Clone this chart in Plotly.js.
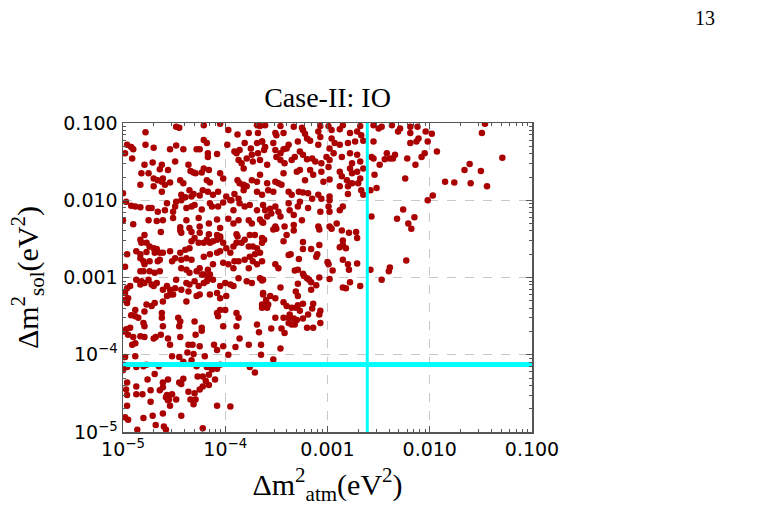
<!DOCTYPE html>
<html>
<head>
<meta charset="utf-8">
<script src="https://cdn.plot.ly/plotly-3.0.1.min.js"></script>
<style>
  html, body { margin: 0; padding: 0; background: #ffffff; }
  #chart { width: 757px; height: 522px; }
</style>
</head>
<body>
<div id="chart"></div>
<script>
// Scan points, stored as [log10 Δm²_atm, log10 Δm²_sol] (both in eV²).
// Region with Δm²_sol above ~5e-3
const ptsHigh = [
  [-4.48,-1.05],[-4.45,-1.06],[-4.21,-1.03],[-4.05,-1.01],[-3.69,-1.03],[-3.66,-1.04],[-4.78,-1.12],[-3.97,-1.09],[-3.88,-1.15],[-3.77,-1.13],[-3.68,-1.13],
  [-4.96,-1.28],[-4.92,-1.31],[-4.90,-1.34],[-4.78,-1.28],[-4.70,-1.32],[-4.54,-1.34],[-4.48,-1.29],[-4.41,-1.34],[-4.28,-1.34],[-4.25,-1.34],[-4.21,-1.22],[-4.18,-1.26],[-4.17,-1.39],[-4.08,-1.40],[-3.98,-1.28],[-3.91,-1.37],[-3.86,-1.35],[-3.81,-1.26],[-3.75,-1.33],[-3.69,-1.26],[-3.64,-1.24],
  [-4.98,-1.39],[-4.91,-1.46],[-4.79,-1.54],[-4.71,-1.51],[-4.62,-1.54],[-4.64,-1.60],[-4.56,-1.61],[-4.49,-1.50],[-4.36,-1.54],[-4.34,-1.62],[-4.29,-1.65],[-4.23,-1.64],[-4.21,-1.59],[-4.16,-1.61],[-4.17,-1.44],[-3.89,-1.39],[-3.87,-1.48],[-3.84,-1.52],[-3.82,-1.59],[-3.79,-1.46],[-3.74,-1.41],[-3.73,-1.50],[-3.68,-1.39],[-3.66,-1.48],[-3.62,-1.35],
  [-4.82,-1.65],[-4.75,-1.65],[-4.70,-1.72],[-4.66,-1.74],[-4.62,-1.76],[-4.61,-1.72],[-4.54,-1.77],[-4.44,-1.74],[-4.41,-1.78],[-4.31,-1.64],[-4.18,-1.74],[-4.15,-1.77],[-4.05,-1.65],[-4.02,-1.72],[-3.88,-1.74],[-3.86,-1.78],[-3.82,-1.80],[-3.79,-1.82],[-3.74,-1.74],[-3.69,-1.76],[-3.66,-1.67],[-3.69,-1.89],
  [-4.83,-1.80],[-4.70,-1.82],[-4.62,-1.89],[-4.59,-1.80],[-4.43,-1.93],[-4.39,-1.96],[-4.35,-1.87],[-4.33,-1.95],[-4.31,-1.92],[-4.25,-1.94],[-4.22,-1.87],[-4.17,-1.89],[-4.12,-1.93],[-4.07,-1.89],[-3.99,-1.95],[-3.94,-2.00],[-3.91,-1.92],[-3.87,-1.98],[-3.82,-1.87],[-3.82,-1.82],
  [-5.00,-1.91],[-4.97,-2.02],[-4.92,-2.07],[-4.88,-2.08],[-4.83,-2.09],[-4.75,-2.10],[-4.72,-2.10],[-4.66,-2.15],[-4.59,-2.13],[-4.57,-2.04],[-4.51,-2.15],[-4.49,-2.08],[-4.48,-2.02],[-4.43,-2.00],[-4.38,-2.10],[-4.33,-2.08],[-4.30,-2.06],[-4.23,-2.12],[-4.15,-2.04],[-4.13,-2.08],[-4.07,-2.08],[-4.02,-2.03],[-3.95,-2.00],[-3.92,-2.13],[-3.86,-2.04],[-3.81,-2.08],[-3.76,-2.06],[-3.69,-2.13],
  [-5.00,-2.26],[-4.90,-2.31],[-4.75,-2.26],[-4.67,-2.27],[-4.61,-2.26],[-4.51,-2.23],[-4.38,-2.26],[-4.26,-2.23],[-4.25,-2.34],[-4.16,-2.30],[-4.08,-2.25],[-3.97,-2.24],[-3.92,-2.30],[-3.87,-2.26],[-3.77,-2.26],[-3.74,-2.30],[-3.66,-2.25],[-3.63,-2.29],[-4.44,-2.35],[-4.35,-2.36],[-4.05,-2.36],
  [-3.61,-1.03],[-3.46,-1.04],[-3.33,-1.05],[-3.25,-1.06],[-3.07,-1.04],[-2.99,-1.04],[-2.85,-1.03],[-2.68,-1.04],[-3.51,-1.13],[-3.43,-1.13],[-3.50,-1.16],[-3.24,-1.09],[-3.22,-1.14],[-3.09,-1.11],[-2.96,-1.09],[-2.88,-1.08],[-2.78,-1.13],[-2.71,-1.11],[-2.67,-1.16],
  [-3.64,-1.24],[-3.53,-1.26],[-3.38,-1.28],[-3.29,-1.24],[-3.20,-1.20],[-3.17,-1.23],[-3.07,-1.18],[-3.09,-1.28],[-2.96,-1.20],[-2.93,-1.26],[-2.98,-1.33],[-2.88,-1.28],[-2.80,-1.26],[-2.73,-1.24],[-2.65,-1.23],[-2.78,-1.39],
  [-3.61,-1.31],[-3.51,-1.35],[-3.43,-1.34],[-3.40,-1.33],[-3.46,-1.39],[-3.32,-1.44],[-3.27,-1.37],[-3.35,-1.48],[-3.24,-1.41],[-3.20,-1.47],[-3.15,-1.46],[-3.12,-1.50],[-3.06,-1.52],[-3.01,-1.44],[-2.94,-1.39],[-2.98,-1.48],[-2.86,-1.44],[-2.71,-1.41],[-2.68,-1.50],
  [-3.59,-1.54],[-3.50,-1.44],[-3.46,-1.48],[-3.43,-1.65],[-3.42,-1.52],[-3.30,-1.63],[-3.27,-1.61],[-3.17,-1.61],[-3.06,-1.63],[-2.99,-1.57],[-2.88,-1.63],[-2.78,-1.59],[-2.76,-1.65],[-2.71,-1.63],[-2.68,-1.72],[-2.65,-1.59],[-2.76,-1.52],
  [-3.59,-1.78],[-3.51,-1.76],[-3.48,-1.78],[-3.45,-1.80],[-3.38,-1.89],[-3.35,-1.93],[-3.58,-1.87],[-3.64,-1.93],[-3.53,-1.89],[-3.22,-1.74],[-3.14,-1.67],[-3.04,-1.76],[-2.98,-1.73],[-2.86,-1.69],[-2.81,-1.74],[-2.80,-1.82],[-2.70,-1.78],[-2.67,-1.87],[-2.76,-1.78],[-2.88,-1.82],
  [-3.28,-1.89],[-3.24,-1.90],[-3.19,-1.91],[-3.15,-1.98],[-3.09,-1.93],[-3.06,-1.98],[-2.98,-1.95],[-2.80,-1.92],[-2.65,-1.93],
  [-3.63,-2.06],[-3.61,-2.13],[-3.56,-2.11],[-3.55,-2.17],[-3.59,-2.21],[-3.51,-2.08],[-3.48,-2.15],[-3.46,-2.21],[-3.38,-2.04],[-3.37,-2.13],[-3.33,-2.19],[-3.27,-2.02],[-3.29,-2.08],[-3.25,-2.26],[-3.19,-2.10],[-3.07,-2.15],[-2.98,-2.00],[-2.99,-2.08],[-2.98,-2.15],[-2.88,-2.13],[-2.85,-2.08],
  [-2.98,-2.34],[-3.09,-2.34],[-3.33,-2.32],[-3.42,-2.34],[-3.51,-2.34],[-3.64,-2.28],[-2.91,-2.30]
];

// Points to the right of the Δm²_atm reference line
const ptsRight = [
  [-2.55,-1.03],[-2.50,-1.07],[-2.47,-1.05],[-2.37,-1.03],[-2.29,-1.07],[-2.31,-1.11],[-2.19,-1.05],[-2.19,-1.13],[-2.12,-1.05],[-2.04,-1.11],[-1.98,-1.14],
  [-2.11,-1.20],[-2.13,-1.24],[-2.19,-1.26],[-2.02,-1.24],[-2.55,-1.24],[-1.93,-1.37],[-2.05,-1.39],[-2.08,-1.44],[-2.22,-1.46],[-2.34,-1.41],[-2.36,-1.46],
  [-2.39,-1.46],[-2.42,-1.39],[-2.44,-1.47],[-2.49,-1.54],[-2.14,-1.54],[-2.24,-1.72],[-1.85,-1.76],[-1.76,-1.77],[-1.66,-1.61],[-1.61,-1.53],[-1.60,-1.78],
  [-1.50,-1.62],[-1.44,-1.82],[-1.29,-1.45],[-1.49,-1.13],[-1.46,-1.01],[-2.57,-1.44],[-2.55,-1.46],[-2.54,-1.67],[-2.58,-1.87],[-2.52,-1.84],[-2.02,-2.00],
  [-1.97,-1.94],[-2.57,-2.21],[-2.26,-2.12],[-2.15,-2.22],[-2.32,-2.24],[-2.21,-2.30],[-2.18,-2.37],[-2.23,-2.78],[-2.39,-2.87],[-2.40,-2.92],[-2.47,-3.03],
  [-2.58,-2.90]
];

// Region with Δm²_sol between ~2e-4 and ~5e-3
const ptsMid = [
  [-4.79,-2.45],[-4.63,-2.41],[-4.44,-2.39],[-4.43,-2.42],[-4.33,-2.41],[-4.25,-2.42],[-4.16,-2.44],[-4.08,-2.45],[-4.05,-2.47],[-3.89,-2.44],[-3.88,-2.47],
  [-3.76,-2.45],[-3.71,-2.45],[-3.64,-2.49],[-4.83,-2.51],[-4.82,-2.55],[-4.77,-2.55],[-4.74,-2.60],[-4.70,-2.62],[-4.67,-2.63],[-4.96,-2.70],[-4.87,-2.66],
  [-4.83,-2.70],[-4.77,-2.67],[-4.69,-2.68],[-4.64,-2.68],[-4.61,-2.68],[-4.54,-2.66],[-4.44,-2.68],[-4.39,-2.64],[-4.35,-2.62],[-4.33,-2.53],[-4.30,-2.49],
  [-4.26,-2.55],[-4.21,-2.55],[-4.18,-2.51],[-4.15,-2.55],[-4.12,-2.53],[-4.08,-2.51],[-4.05,-2.49],[-4.02,-2.55],[-3.99,-2.62],[-3.92,-2.60],[-3.89,-2.55],
  [-3.84,-2.55],[-3.81,-2.51],[-3.77,-2.60],[-3.73,-2.60],[-3.69,-2.62],[-3.64,-2.55],[-3.63,-2.51],[-4.83,-2.75],[-4.80,-2.79],[-4.79,-2.83],[-4.74,-2.79],
  [-4.66,-2.79],[-4.64,-2.77],[-4.52,-2.79],[-4.49,-2.75],[-4.43,-2.77],[-4.38,-2.75],[-4.33,-2.77],[-4.21,-2.73],[-4.15,-2.70],[-4.08,-2.68],[-4.05,-2.66],
  [-3.95,-2.68],[-3.91,-2.79],[-3.87,-2.79],[-3.81,-2.77],[-3.76,-2.73],[-3.73,-2.79],[-3.66,-2.68],[-3.71,-2.70],[-4.98,-2.86],[-4.83,-2.92],[-4.80,-2.92],
  [-4.74,-2.92],[-4.69,-2.94],[-4.64,-2.92],[-4.43,-2.88],[-4.38,-2.90],[-4.35,-2.94],[-4.28,-2.92],[-4.25,-2.88],[-4.21,-2.96],[-4.17,-2.90],[-4.12,-2.83],
  [-4.02,-2.81],[-3.97,-2.83],[-3.92,-2.88],[-3.77,-2.88],[-3.69,-2.83],[-3.64,-2.79],[-4.87,-3.03],[-4.82,-3.05],[-4.79,-3.07],[-4.75,-3.03],[-4.72,-3.09],
  [-4.70,-3.11],[-4.67,-3.07],[-4.83,-3.09],[-4.93,-3.11],[-4.96,-3.14],[-4.48,-3.03],[-4.38,-3.07],[-4.35,-3.09],[-4.30,-3.05],[-4.26,-3.11],[-4.21,-3.07],
  [-4.18,-3.05],[-4.17,-3.01],[-4.15,-2.96],[-4.12,-3.03],[-4.23,-2.96],[-4.05,-3.11],[-4.00,-3.07],[-3.95,-3.09],[-3.92,-3.11],[-3.87,-3.01],[-3.79,-3.05],
  [-3.74,-3.07],[-3.66,-3.01],[-3.63,-3.03],[-4.98,-3.20],[-4.98,-3.29],[-4.61,-3.16],[-4.57,-3.11],[-4.54,-3.16],[-4.49,-3.14],[-4.51,-3.22],[-4.43,-3.16],
  [-4.36,-3.18],[-4.28,-3.24],[-4.25,-3.22],[-4.15,-3.22],[-4.08,-3.20],[-4.05,-3.27],[-3.99,-3.24],[-4.57,-3.24],[-4.54,-3.22],[-4.61,-3.31],[-4.69,-3.33],
  [-4.72,-3.37],[-4.77,-3.35],[-4.95,-3.27],[-4.96,-3.33],[-4.38,-3.31],[-4.88,-3.42],[-4.79,-3.44],[-4.92,-3.49],[-4.88,-3.50],[-4.85,-3.52],[-4.80,-3.59],
  [-4.79,-3.63],[-4.62,-3.46],[-4.62,-3.52],[-4.61,-3.63],[-4.46,-3.52],[-4.44,-3.57],[-4.45,-3.63],[-4.30,-3.57],[-4.23,-3.65],[-4.08,-3.46],[-4.05,-3.42],
  [-4.00,-3.42],[-4.07,-3.50],[-3.89,-3.46],[-3.87,-3.52],[-4.02,-3.63],[-3.89,-3.63],[-3.69,-3.61],[-3.64,-3.39],[-3.64,-3.35],[-3.63,-3.20],[-4.97,-3.67],
  [-4.93,-3.65],
  [-3.53,-2.38],[-3.50,-2.37],[-3.40,-2.45],[-3.33,-2.39],[-3.08,-2.38],[-2.96,-2.37],[-2.86,-2.39],[-2.79,-2.42],[-2.72,-2.41],[-2.71,-2.49],[-3.62,-2.51],
  [-3.43,-2.53],[-3.24,-2.54],[-3.24,-2.63],[-3.16,-2.63],[-3.08,-2.58],[-3.10,-2.70],[-3.11,-2.73],[-3.38,-2.71],[-3.36,-2.70],[-3.28,-2.76],[-2.85,-2.52],
  [-2.88,-2.61],[-2.82,-2.62],[-2.85,-2.58],[-2.85,-2.77],[-2.80,-2.83],[-2.79,-2.90],[-2.71,-2.82],[-3.00,-2.80],[-2.99,-2.83],[-2.95,-2.91],[-2.98,-3.02],
  [-2.78,-3.06],[-2.68,-3.11],[-2.85,-3.13],[-2.82,-3.14],[-3.51,-2.83],[-3.48,-2.88],[-3.32,-2.91],[-3.29,-2.90],[-3.24,-2.95],[-3.23,-2.98],[-3.20,-3.01],
  [-3.18,-3.03],[-3.16,-3.06],[-3.08,-3.00],[-3.11,-3.10],[-3.16,-3.16],[-3.29,-3.08],[-3.31,-3.18],[-3.29,-3.24],[-3.46,-3.13],[-3.64,-3.04],[-3.63,-3.22],
  [-3.60,-3.29],[-3.56,-3.24],[-3.51,-3.27],[-3.58,-3.35],[-3.61,-3.36],[-3.59,-3.39],[-3.43,-3.32],[-3.40,-3.37],[-3.35,-3.39],[-3.31,-3.39],[-3.27,-3.43],
  [-3.29,-3.36],[-3.24,-3.34],[-3.14,-3.34],[-3.15,-3.40],[-3.07,-3.43],[-3.08,-3.48],[-3.19,-3.48],[-3.24,-3.53],[-3.30,-3.55],[-3.33,-3.53],[-3.37,-3.48],
  [-3.38,-3.52],[-3.43,-3.52],[-3.51,-3.52],[-3.38,-3.59],[-3.35,-3.61],[-3.32,-3.61],[-3.45,-3.66],[-3.55,-3.66],[-3.20,-3.65],[-3.14,-3.65],[-3.07,-3.59],
  [-3.42,-3.72]
];

// Region with Δm²_sol below ~2e-4
const ptsLow = [
  [-4.99,-3.70],[-4.95,-3.74],[-4.90,-3.77],[-4.88,-3.85],[-4.91,-3.87],[-4.83,-3.76],[-4.79,-3.77],[-4.70,-3.79],[-4.68,-3.77],[-4.63,-3.74],[-4.56,-3.79],
  [-4.54,-3.87],[-4.44,-3.77],[-4.29,-3.74],[-4.23,-3.69],[-4.36,-3.87],[-4.32,-3.87],[-4.25,-3.89],[-4.37,-3.97],[-4.31,-3.99],[-4.20,-4.02],[-4.11,-3.87],
  [-4.08,-3.94],[-4.02,-3.89],[-3.97,-4.00],[-3.90,-3.90],[-3.86,-3.79],[-3.77,-3.87],[-3.67,-3.71],[-3.65,-3.87],[-3.65,-4.00],[-4.88,-4.02],[-4.98,-4.03],
  [-5.00,-4.13],[-4.96,-4.16],[-4.87,-4.16],[-4.80,-4.15],[-4.77,-4.13],[-4.65,-4.15],[-4.52,-4.02],[-4.45,-4.03],[-4.41,-4.09],[-4.33,-4.07],[-4.28,-4.15],
  [-4.16,-4.15],[-4.08,-4.18],[-4.05,-4.13],[-4.13,-4.19],[-4.18,-4.16],[-4.69,-4.25],[-4.41,-4.31],[-4.45,-4.36],[-4.43,-4.38],[-4.61,-4.36],[-4.56,-4.32],
  [-4.27,-4.28],[-4.22,-4.28],[-4.16,-4.26],[-4.10,-4.32],[-4.19,-4.34],[-4.16,-4.39],[-4.22,-4.41],[-4.25,-4.45],[-4.30,-4.50],[-4.36,-4.48],[-4.96,-4.36],
  [-4.97,-4.45],[-4.96,-4.52],[-4.87,-4.41],[-4.87,-4.51],[-4.81,-4.51],[-4.76,-4.32],[-4.73,-4.46],[-4.64,-4.46],[-4.61,-4.42],[-4.57,-4.52],[-4.52,-4.51],
  [-4.58,-4.55],[-4.55,-4.58],[-4.56,-4.59],[-4.54,-4.66],[-4.48,-4.58],[-4.73,-4.61],[-4.96,-4.66],[-4.98,-4.81],[-4.95,-4.84],[-4.80,-4.82],[-4.71,-4.79],
  [-4.61,-4.76],[-4.68,-4.91],[-4.60,-4.93],[-4.43,-4.79],[-4.34,-4.58],[-4.29,-4.58],[-4.31,-4.64],[-4.08,-4.66],[-3.95,-4.67],[-3.76,-4.16],[-3.71,-4.23],
  [-4.22,-4.95],[-4.86,-4.97],[-4.58,-4.97],[-5.03,-4.41],[-5.00,-4.20],[-3.53,-4.06],[-3.46,-3.92]
];

// Best-fit reference values (eV²)
const dmAtmRef = 2.45e-3;
const dmSolRef = 7.5e-5;

// Axis ranges and tick labels
const decades = [1e-5, 1e-4, 1e-3, 1e-2, 1e-1];
const xTickText = ['10<sup>\u22125</sup>', '10<sup>\u22124</sup>', '0.001', '0.010', '0.100'];
const yTickText = ['10<sup>\u22125</sup>', '10<sup>\u22124</sup>', '0.001', '0.010', '0.100'];

const allPts = ptsHigh.concat(ptsRight, ptsMid, ptsLow);
const xs = allPts.map(p => Math.pow(10, p[0]));
const ys = allPts.map(p => Math.pow(10, p[1]));

// minor tick positions 2..9 within each decade
const minorVals = [];
for (let d = -5; d < -1; d++) {
  for (let m = 2; m <= 9; m++) minorVals.push(m * Math.pow(10, d));
}

const axisColor = '#555555';
const tickFont = { family: 'DejaVu Sans, Liberation Sans, sans-serif', size: 19, color: '#000000' };
const titleFont = { family: 'Liberation Serif, DejaVu Serif, serif', size: 30, color: '#000000' };

function axisBase(ticktext) {
  return {
    type: 'log',
    range: [-5, -1],
    tickmode: 'array',
    tickvals: decades,
    ticktext: ticktext,
    ticks: 'inside',
    ticklen: 6,
    tickwidth: 1,
    tickcolor: axisColor,
    showline: true,
    linecolor: axisColor,
    linewidth: 1.5,
    mirror: 'ticks',
    showgrid: true,
    gridcolor: '#c8c8c8',
    griddash: 'dash',
    gridwidth: 1,
    zeroline: false,
    tickfont: tickFont,
    minor: {
      tickmode: 'array',
      tickvals: minorVals,
      ticks: 'inside',
      ticklen: 3,
      tickcolor: axisColor,
      showgrid: false
    }
  };
}

const traces = [
  {
    type: 'scatter',
    mode: 'markers',
    x: xs,
    y: ys,
    marker: { color: '#aa0000', size: 6.5, line: { width: 0 } },
    cliponaxis: true,
    hoverinfo: 'skip',
    showlegend: false
  },
  {
    type: 'scatter',
    mode: 'lines',
    x: [decades[0], decades[4]],
    y: [dmSolRef, dmSolRef],
    line: { color: '#00ffff', width: 5 },
    hoverinfo: 'skip',
    showlegend: false
  },
  {
    type: 'scatter',
    mode: 'lines',
    x: [dmAtmRef, dmAtmRef],
    y: [decades[0], decades[4]],
    line: { color: '#00ffff', width: 3 },
    hoverinfo: 'skip',
    showlegend: false
  }
];

const xaxis = axisBase(xTickText);
xaxis.title = { text: '\u0394m<sup>2</sup><sub>atm</sub>(eV<sup>2</sup>)', font: titleFont, standoff: 14 };
const yaxis = axisBase(yTickText);
yaxis.title = { text: '\u0394m<sup>2</sup><sub>sol</sub>(eV<sup>2</sup>)', font: titleFont, standoff: 16 };

const layout = {
  width: 757,
  height: 522,
  margin: { l: 123, r: 225, t: 123, b: 90, pad: 0 },
  paper_bgcolor: '#ffffff',
  plot_bgcolor: '#ffffff',
  title: {
    text: 'Case-II: IO',
    font: { family: 'Liberation Serif, DejaVu Serif, serif', size: 28, color: '#000000' },
    xref: 'paper', x: 0.5, xanchor: 'center',
    yref: 'container', y: 1 - 97 / 522, yanchor: 'middle'
  },
  xaxis: xaxis,
  yaxis: yaxis,
  showlegend: false,
  annotations: [
    {
      text: '13',
      xref: 'paper', yref: 'paper',
      x: (705 - 123) / 409, y: (432 - 18) / 309,
      xanchor: 'center', yanchor: 'middle',
      showarrow: false,
      font: { family: 'Liberation Serif, DejaVu Serif, serif', size: 20, color: '#000000' }
    }
  ]
};

Plotly.newPlot('chart', traces, layout, { displayModeBar: false, staticPlot: true });
</script>
</body>
</html>
